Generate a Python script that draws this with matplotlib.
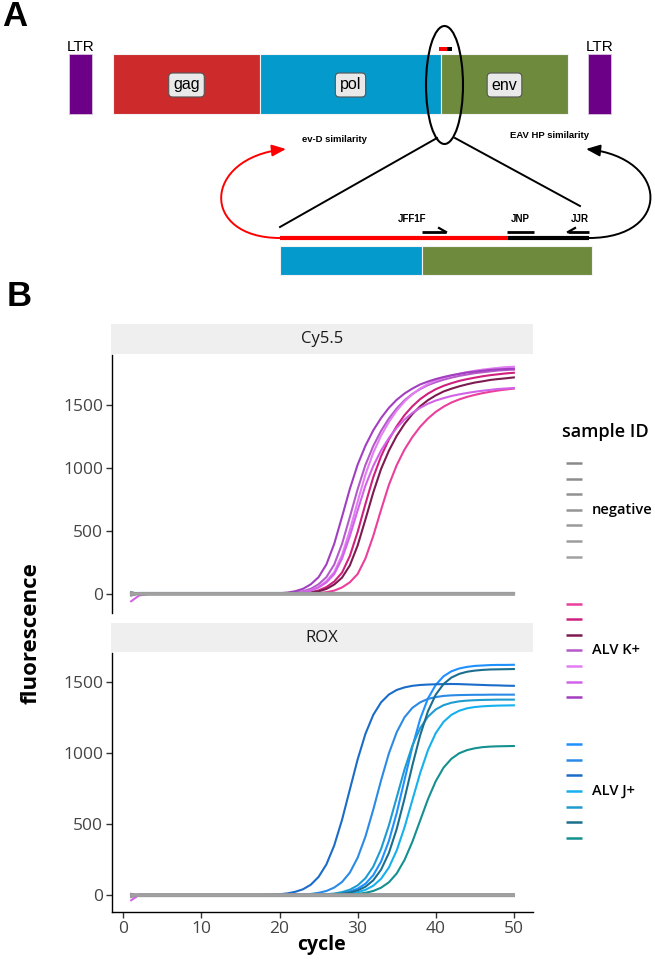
import matplotlib
matplotlib.use('Agg')
import matplotlib.pyplot as plt
from matplotlib.patches import Rectangle, Ellipse, FancyArrowPatch
from matplotlib.path import Path

plt.rcParams['font.family'] = ['Open Sans', 'DejaVu Sans']
MAP_FONT = ['Liberation Sans', 'DejaVu Sans']
TAG_FONT = ['Liberation Sans Narrow', 'Liberation Sans', 'DejaVu Sans']

# ---------------- panel A : provirus map (pixel layout) ----------------
gene_names = ['gag', 'pol', 'env']
gene_start = [113, 260, 441]
gene_end = [260, 441, 568]
gene_colors = ['#cc2a2b', '#049acc', '#6e8b3d']
ltr_start = [69, 588]
ltr_end = [92, 611]
LTR_COLOR = '#6c0086'

zoom_start = [280, 422]
zoom_end = [422, 592]
zoom_colors = ['#049acc', '#6e8b3d']

primer_names = ['JFF1F', 'JNP', 'JJR']
primer_start = [422, 507, 568]
primer_end = [446, 534, 589]
primer_dir = [1, 0, -1]

# ---------------- panel B : amplification curves ----------------
cycles = list(range(1, 51))
group_names = ['negative', 'ALV K+', 'ALV J+']

neg_colors = ['#8a8a8a', '#8d8d8d', '#919191', '#959595', '#999999', '#9d9d9d', '#a1a1a1']
kpos_colors = ['#ea3f9b', '#d0207e', '#7d1b50', '#b45bc9', '#e37ef2', '#d262e8', '#a23fc0']
jpos_colors = ['#1e90ff', '#2b8ae6', '#1a6cc8', '#16b0ee', '#1e9cd0', '#1c6e8e', '#149090']

# ALV K+ samples, Cy5.5 channel
k1_cy55 = [0, 0, 0, 0, 0, 0, 0, 0, 0, 0,
           0, 0, 0, 0, 0, 0, 0, 0, 0, 0,
           0, 0, 0, 2, 5, 12, 25, 50, 91, 157,
           281, 460, 668, 866, 1023, 1147, 1246, 1328, 1394, 1447,
           1488, 1521, 1546, 1566, 1582, 1596, 1607, 1617, 1625, 1632]
k2_cy55 = [0, 0, 0, 0, 0, 0, 0, 0, 0, 0,
           0, 0, 0, 0, 0, 0, 0, 0, 0, 0,
           0, 2, 5, 12, 26, 53, 97, 168, 300, 492,
           715, 927, 1094, 1227, 1333, 1421, 1491, 1548, 1592, 1627,
           1654, 1675, 1693, 1707, 1719, 1730, 1739, 1746, 1753, 1758]
k3_cy55 = [0, 0, 0, 0, 0, 0, 0, 0, 0, 0,
           0, 0, 0, 0, 0, 0, 0, 0, 0, 0,
           0, 1, 3, 9, 19, 38, 73, 128, 225, 384,
           592, 806, 993, 1138, 1256, 1351, 1429, 1491, 1540, 1578,
           1609, 1631, 1650, 1666, 1680, 1690, 1701, 1708, 1714, 1721]
k4_cy55 = [0, 0, 0, 0, 0, 0, 0, 0, 0, 0,
           0, 0, 0, 0, 0, 0, 0, 0, 0, 1,
           4, 9, 20, 39, 75, 132, 232, 396, 610, 832,
           1025, 1175, 1296, 1394, 1474, 1539, 1589, 1628, 1660, 1683,
           1703, 1719, 1733, 1744, 1755, 1762, 1769, 1776, 1780, 1783]
k5_cy55 = [0, 0, 0, 0, 0, 0, 0, 0, 0, 0,
           0, 0, 0, 0, 0, 0, 0, 0, 0, 0,
           2, 5, 13, 27, 54, 100, 172, 308, 505, 733,
           950, 1122, 1258, 1367, 1457, 1529, 1587, 1633, 1669, 1696,
           1718, 1736, 1750, 1763, 1774, 1783, 1790, 1797, 1803, 1806]
k6_cy55 = [-60, -15, -3, 0, 0, 0, 0, 0, 0, 0,
           0, 0, 0, 0, 0, 0, 0, 0, 0, 0,
           2, 5, 11, 25, 49, 90, 156, 279, 458, 664,
           861, 1017, 1140, 1238, 1320, 1386, 1438, 1479, 1512, 1537,
           1556, 1573, 1586, 1597, 1607, 1615, 1622, 1629, 1633, 1637]
k7_cy55 = [0, 0, 0, 0, 0, 0, 0, 0, 0, 0,
           0, 0, 0, 0, 0, 0, 0, 0, 1, 4,
           9, 20, 39, 75, 132, 233, 397, 612, 834, 1027,
           1178, 1300, 1398, 1479, 1543, 1593, 1632, 1665, 1688, 1708,
           1724, 1738, 1749, 1760, 1767, 1774, 1781, 1785, 1788, 1790]

# ALV J+ samples, ROX channel
j1_rox = [0, 0, 0, 0, 0, 0, 0, 0, 0, 0,
          0, 0, 0, 0, 0, 0, 0, 0, 0, 0,
          0, 0, 1, 1, 2, 5, 8, 15, 26, 46,
          81, 141, 237, 382, 578, 810, 1042, 1238, 1383, 1479,
          1539, 1574, 1594, 1605, 1612, 1615, 1618, 1619, 1619, 1620]
j2_rox = [0, 0, 0, 0, 0, 0, 0, 0, 0, 0,
          0, 0, 0, 0, 0, 0, 0, 0, 0, 1,
          2, 3, 5, 9, 17, 30, 54, 93, 159, 264,
          413, 602, 808, 997, 1146, 1251, 1317, 1356, 1380, 1393,
          1401, 1405, 1407, 1408, 1409, 1409, 1410, 1410, 1410, 1410]
j3_rox = [0, 0, 0, 0, 0, 0, 0, 0, 0, 0,
          0, 0, 0, 0, 0, 0, 1, 2, 4, 7,
          13, 24, 42, 74, 129, 217, 350, 530, 743, 955,
          1135, 1268, 1356, 1411, 1443, 1461, 1472, 1478, 1481, 1483,
          1484, 1485, 1484, 1482, 1480, 1478, 1476, 1475, 1473, 1472]
j4_rox = [0, 0, 0, 0, 0, 0, 0, 0, 0, 0,
          0, 0, 0, 0, 0, 0, 0, 0, 0, 0,
          0, 0, 0, 1, 1, 2, 4, 7, 12, 21,
          38, 67, 116, 195, 315, 477, 668, 858, 1020, 1140,
          1219, 1268, 1297, 1314, 1323, 1328, 1331, 1333, 1334, 1335]
j5_rox = [0, 0, 0, 0, 0, 0, 0, 0, 0, 0,
          0, 0, 0, 0, 0, 0, 0, 0, 0, 0,
          0, 1, 1, 2, 4, 7, 12, 22, 39, 69,
          120, 201, 325, 491, 688, 884, 1051, 1174, 1255, 1306,
          1336, 1353, 1363, 1368, 1371, 1373, 1374, 1375, 1375, 1375]
j6_rox = [0, 0, 0, 0, 0, 0, 0, 0, 0, 0,
          0, 0, 0, 0, 0, 0, 0, 0, 0, 0,
          0, 0, 0, 1, 2, 3, 6, 11, 19, 34,
          60, 105, 180, 297, 466, 679, 911, 1124, 1293, 1410,
          1485, 1530, 1556, 1571, 1579, 1584, 1587, 1588, 1589, 1590]
j7_rox = [0, 0, 0, 0, 0, 0, 0, 0, 0, 0,
          0, 0, 0, 0, 0, 0, 0, 0, 0, 0,
          0, 0, 0, 0, 1, 1, 2, 3, 5, 9,
          17, 30, 53, 91, 153, 248, 375, 525, 675, 802,
          897, 959, 998, 1020, 1033, 1041, 1045, 1047, 1048, 1049]

# flat traces: value at cycle 1, then the baseline level
neg_cy55_first = [-15, 8, -6, 12, -10, 4, -2]
neg_cy55_level = [3, -4, 6, -7, 0, 5, -2]
jpos_cy55_first = [5, -4, 8, 0, -6, 3, 10]
jpos_cy55_level = [1, -2, 2, 0, -1, 3, 0]
neg_rox_first = [-12, 6, -4, 10, -8, 3, 0]
neg_rox_level = [4, -3, 5, -6, 0, 6, -2]
kpos_rox_first = [4, -3, 2, 6, -5, -35, 0]
kpos_rox_level = [2, -1, 0, 3, -2, 1, 0]


def flat(first, level):
    return [[f] + [l] * (len(cycles) - 1) for f, l in zip(first, level)]


cy55_series = ([k1_cy55, k2_cy55, k3_cy55, k4_cy55, k5_cy55, k6_cy55, k7_cy55],
               flat(jpos_cy55_first, jpos_cy55_level),
               flat(neg_cy55_first, neg_cy55_level))
rox_series = (flat(kpos_rox_first, kpos_rox_level),
              [j1_rox, j2_rox, j3_rox, j4_rox, j5_rox, j6_rox, j7_rox],
              flat(neg_rox_first, neg_rox_level))

W, H = 655, 960
fig = plt.figure(figsize=(W / 100, H / 100), dpi=100)


def px_axes(x0, y0, x1, y1):
    return fig.add_axes([x0 / W, 1 - y1 / H, (x1 - x0) / W, (y1 - y0) / H])


# overlay canvas in pixel units (panel A, legend, tags)
canvas = fig.add_axes([0, 0, 1, 1])
canvas.set_xlim(0, W); canvas.set_ylim(H, 0); canvas.axis('off')

canvas.text(2, 17, 'A', fontsize=25, fontweight='bold', family=TAG_FONT, va='center', ha='left')
canvas.text(7, 297, 'B', fontsize=25, fontweight='bold', family=TAG_FONT, va='center', ha='left')

for s, e in zip(ltr_start, ltr_end):
    canvas.add_patch(Rectangle((s, 54), e - s, 60, fc=LTR_COLOR, ec='#d9c6de', lw=0.6))
    canvas.text((s + e) / 2, 47, 'LTR', fontsize=11, family=MAP_FONT, ha='center', va='center')
for name, s, e, c in zip(gene_names, gene_start, gene_end, gene_colors):
    canvas.add_patch(Rectangle((s, 54), e - s, 60, fc=c, ec='#f2f2f2', lw=0.8))
    canvas.text((s + e) / 2, 85, name, fontsize=11.5, family=MAP_FONT, ha='center', va='center',
                bbox=dict(boxstyle='round,pad=0.28,rounding_size=0.25', fc='#e9e9e9', ec='#555555', lw=0.8))

canvas.add_patch(Rectangle((439, 47), 8, 4, fc='red', ec='none'))
canvas.add_patch(Rectangle((447, 47), 5, 4, fc='black', ec='none'))
canvas.add_patch(Ellipse((444.5, 85), 37, 118, fill=False, ec='black', lw=1.5))
canvas.plot([437, 280], [138, 227], color='black', lw=1.4)
canvas.plot([455, 580], [138, 206], color='black', lw=1.4)

canvas.text(334, 140, 'ev-D similarity', fontsize=6.8, fontweight='bold', family=MAP_FONT, ha='center', va='center')
canvas.text(550, 136, 'EAV HP similarity', fontsize=6.8, fontweight='bold', family=MAP_FONT, ha='center', va='center')

red_path = Path([(280, 238), (200, 238), (202, 158), (286, 149)],
                [Path.MOVETO, Path.CURVE4, Path.CURVE4, Path.CURVE4])
blk_path = Path([(589, 238), (672, 238), (670, 158), (586, 149)],
                [Path.MOVETO, Path.CURVE4, Path.CURVE4, Path.CURVE4])
canvas.add_patch(FancyArrowPatch(path=red_path, arrowstyle='-|>,head_length=0.6,head_width=0.25',
                                 mutation_scale=14, color='red', lw=1.4))
canvas.add_patch(FancyArrowPatch(path=blk_path, arrowstyle='-|>,head_length=0.6,head_width=0.25',
                                 mutation_scale=14, color='black', lw=1.4))

canvas.plot([280, 508], [238, 238], color='red', lw=3, solid_capstyle='butt')
canvas.plot([508, 589], [238, 238], color='black', lw=3, solid_capstyle='butt')
for name, s, e, d in zip(primer_names, primer_start, primer_end, primer_dir):
    canvas.plot([s, e], [232, 232], color='black', lw=2, solid_capstyle='butt')
    if d == 1:
        canvas.plot([e, e - 7], [232, 228], color='black', lw=1.6)
    elif d == -1:
        canvas.plot([s, s + 7], [232, 228], color='black', lw=1.6)
canvas.text(412, 219, 'JFF1F', fontsize=7, fontweight='bold', family=MAP_FONT, ha='center', va='center')
canvas.text(520, 219, 'JNP', fontsize=7, fontweight='bold', family=MAP_FONT, ha='center', va='center')
canvas.text(580, 219, 'JJR', fontsize=7, fontweight='bold', family=MAP_FONT, ha='center', va='center')
for s, e, c in zip(zoom_start, zoom_end, zoom_colors):
    canvas.add_patch(Rectangle((s, 246), e - s, 29, fc=c, ec='#f2f2f2', lw=0.8))

# legend
canvas.text(562, 432, 'sample ID', fontsize=13, fontweight='semibold', va='center', ha='left')
for g, (label, cols) in enumerate(zip(group_names, [neg_colors, kpos_colors, jpos_colors])):
    for j, c in enumerate(cols):
        y = 463 + 15.62 * (g * 9 + j)
        canvas.plot([566, 582], [y, y], color=c, lw=1.8, solid_capstyle='butt')
    canvas.text(592, 463 + 15.62 * (g * 9 + 3), label, fontsize=10.5, fontweight='semibold',
                va='center', ha='left')

# facet panels
panels = [('Cy5.5', cy55_series, 324, 355, 613), ('ROX', rox_series, 623, 653, 912)]
for i, (title, series, strip_top, top, bottom) in enumerate(panels):
    strip = px_axes(111, strip_top, 533, top - 1)
    strip.set_facecolor('#efefef')
    strip.set_xticks([]); strip.set_yticks([])
    for sp in strip.spines.values():
        sp.set_visible(False)
    strip.text(0.5, 0.5, title, fontsize=12, fontweight='medium', color='#1a1a1a',
               ha='center', va='center', transform=strip.transAxes)

    ax = px_axes(112, top, 533, bottom)
    allvals = []
    for group, cols in zip(series, [kpos_colors, jpos_colors, neg_colors]):
        for s, c in zip(group, cols):
            ax.plot(cycles, s, color=c, lw=1.5)
            allvals += s
    lo, hi = min(allvals), max(allvals)
    pad = 0.05 * (hi - lo)
    ax.set_ylim(lo - pad, hi + pad)
    ax.set_xlim(1 - 0.05 * 49, 50 + 0.05 * 49)
    ax.set_yticks([0, 500, 1000, 1500])
    ax.spines['top'].set_visible(False)
    ax.spines['right'].set_visible(False)
    ax.spines['left'].set_linewidth(1.0)
    ax.tick_params(axis='both', length=4, width=1, color='#333333', labelsize=12.5,
                   labelcolor='#444444', pad=2.5)
    if i == 0:
        ax.spines['bottom'].set_visible(False)
        ax.set_xticks([])
    else:
        ax.spines['bottom'].set_linewidth(1.0)
        ax.set_xticks([0, 10, 20, 30, 40, 50])

fig.text(31 / W, 1 - 633 / H, 'fluorescence', rotation=90, fontsize=16, fontweight='bold',
         ha='center', va='center')
fig.text(322 / W, 1 - 945 / H, 'cycle', fontsize=14, fontweight='bold', ha='center', va='center')

fig.savefig('out.png', dpi=100, facecolor='white')
